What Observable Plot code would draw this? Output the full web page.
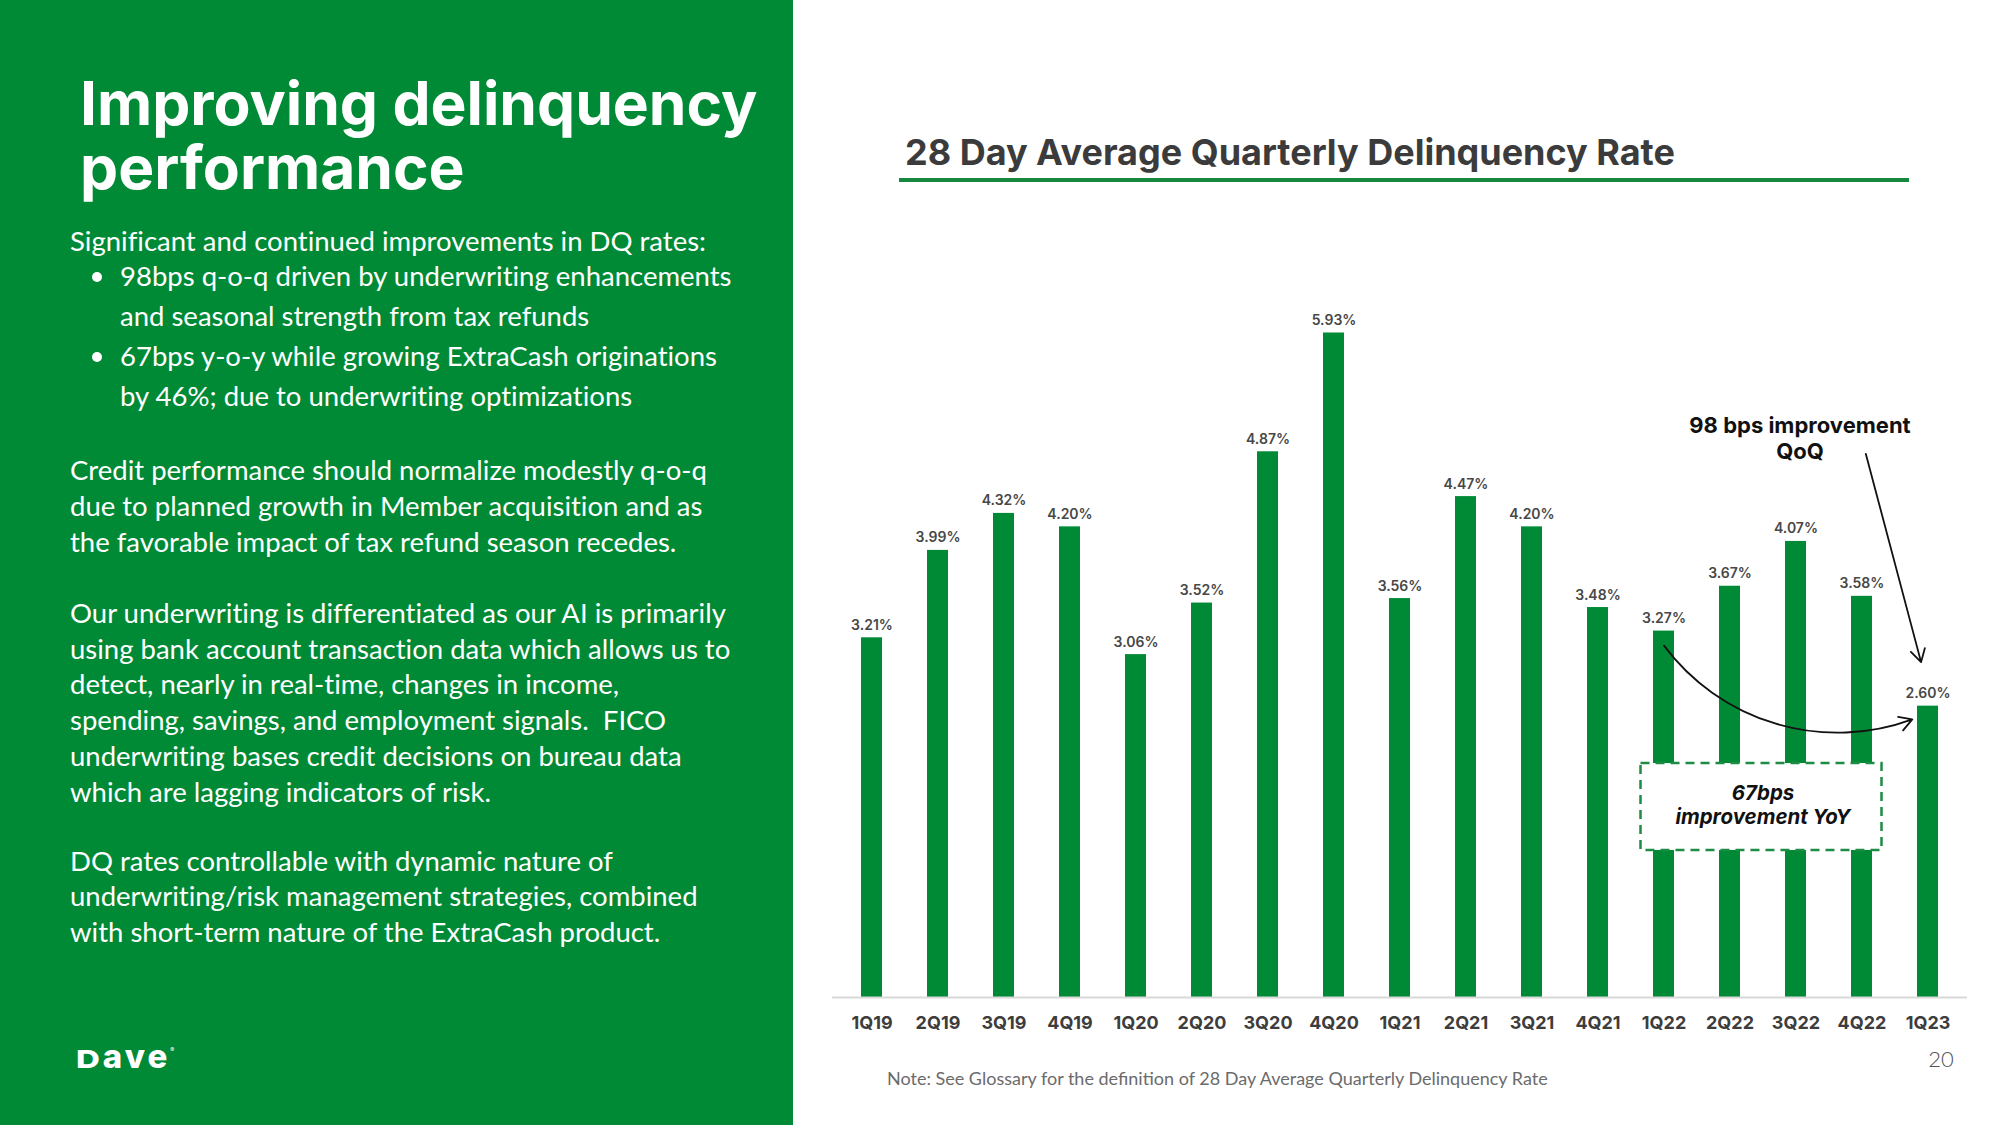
<!DOCTYPE html>
<html>
<head>
<meta charset="utf-8">
<script src="https://cdn.jsdelivr.net/npm/d3@7"></script>
<script src="https://cdn.jsdelivr.net/npm/@observablehq/plot@0.6"></script>
<style>
  html, body { margin: 0; padding: 0; }
  body { width: 2000px; height: 1125px; position: relative; background: #fff; overflow: hidden; font-family: Lato, sans-serif; }
  #panel { position: absolute; left: 0; top: 0; width: 793px; height: 1125px; background: #008a36; }
  .abs { position: absolute; white-space: nowrap; }
  .w { color: #fff; }
  .title { left: 80px; font-family: Inter, sans-serif; font-weight: 700; font-size: 60.5px; line-height: 64px; }
  .body { font-size: 27.5px; line-height: 35.7px; font-variant-ligatures: no-common-ligatures; }
  .bul { font-size: 27.5px; line-height: 40px; font-variant-ligatures: no-common-ligatures; }
  .dot { position: absolute; width: 10px; height: 10px; border-radius: 50%; background: #fff; }
  #logo { left: 76px; top: 1032.5px; font-family: Inter, sans-serif; font-weight: 800; font-size: 33px; line-height: 33px; letter-spacing: 3px; }
  #logo .D { display: inline-block; transform: scaleY(0.75); transform-origin: 50% 87%; }
  #logo sup { font-size: 6px; font-weight: 400; vertical-align: 16px; letter-spacing: 0; }
  #ctitle { left: 905px; top: 133.9px; font-family: Inter, sans-serif; font-weight: 700; font-size: 36px; line-height: 36px; color: #3b3b3b; }
  #uline { position: absolute; left: 899px; top: 178px; width: 1010px; height: 4px; background: #15873e; }
  #note { left: 887px; top: 1067.5px; font-size: 18px; line-height: 20px; color: #6b6b6b; }
  #page { left: 1920px; top: 1047.5px; width: 42px; text-align: center; font-size: 22px; line-height: 22px; font-weight: 300; color: #555; }
  #chart { position: absolute; left: 800px; top: 200px; }
</style>
</head>
<body>
<div id="panel"></div>
<div class="abs w title" style="top:71px;">Improving delinquency</div>
<div class="abs w title" style="top:135px;">performance</div>
<div class="abs w body" style="left:70px;top:222.5px;">Significant and continued improvements in DQ rates:</div>
<div class="dot" style="left:92px;top:272px;"></div>
<div class="dot" style="left:92px;top:352px;"></div>
<div class="abs w bul" style="left:120px;top:256.3px;">98bps q-o-q driven by underwriting enhancements<br>and seasonal strength from tax refunds<br>67bps y-o-y while growing ExtraCash originations<br>by 46%; due to underwriting optimizations</div>
<div class="abs w body" style="left:70px;top:452.2px;">Credit performance should normalize modestly q-o-q<br>due to planned growth in Member acquisition and as<br>the favorable impact of tax refund season recedes.</div>
<div class="abs w body" style="left:70px;top:595px;">Our underwriting is differentiated as our AI is primarily<br>using bank account transaction data which allows us to<br>detect, nearly in real-time, changes in income,<br>spending, savings, and employment signals.&nbsp; FICO<br>underwriting bases credit decisions on bureau data<br>which are lagging indicators of risk.</div>
<div class="abs w body" style="left:70px;top:842.5px;">DQ rates controllable with dynamic nature of<br>underwriting/risk management strategies, combined<br>with short-term nature of the ExtraCash product.</div>
<div class="abs w" id="logo"><span class="D">D</span>ave<sup>®</sup></div>

<div class="abs" id="ctitle">28 Day Average Quarterly Delinquency Rate</div>
<div id="uline"></div>
<div id="chart"></div>
<div class="abs" id="note">Note: See Glossary for the definition of 28 Day Average Quarterly Delinquency Rate</div>
<div class="abs" id="page">20</div>

<script>
// ---- data ----
const quarters = ["1Q19","2Q19","3Q19","4Q19","1Q20","2Q20","3Q20","4Q20","1Q21","2Q21","3Q21","4Q21","1Q22","2Q22","3Q22","4Q22","1Q23"];
const rates = [3.21, 3.99, 4.32, 4.20, 3.06, 3.52, 4.87, 5.93, 3.56, 4.47, 4.20, 3.48, 3.27, 3.67, 4.07, 3.58, 2.60];
const qoqNote = ["98 bps improvement", "QoQ"];
const yoyNote = ["67bps", "improvement YoY"];

const green = "#008a36";
const data = quarters.map((q, i) => ({q, v: rates[i]}));

const chart = Plot.plot({
  width: 1200,
  height: 860,
  marginTop: 35,
  marginBottom: 63,
  marginLeft: 32,
  marginRight: 33,
  style: {fontFamily: "Inter, sans-serif", background: "transparent", overflow: "visible"},
  x: {domain: quarters, paddingInner: 0.685, paddingOuter: 0.353, align: 0.5},
  y: {domain: [0, 6.8], axis: null},
  marks: [
    Plot.barY(data, {x: "q", y: "v", fill: green}),
    Plot.ruleY([0], {stroke: "#d9d9d9", strokeWidth: 2}),
    Plot.text(data, {x: "q", y: "v", text: d => d.v.toFixed(2) + "%", lineAnchor: "bottom", dy: -8, fontSize: 14, fontWeight: 600, fill: "#474747"}),
    Plot.axisX({tickSize: 0, tickPadding: 19, fontSize: 18, fontWeight: 700, color: "#3d3d3d", label: null}),
    // YoY dashed box
    Plot.rect([0], {x1: () => "1Q22", x2: () => "4Q22", y1: () => 1.312, y2: () => 2.088,
      insetLeft: -12.5, insetRight: -9.5, fill: "#fff", stroke: "#1f8c45", strokeWidth: 2.5, strokeDasharray: "9,6"}),
    Plot.text([yoyNote.join("\n")], {x: () => "2Q22", y: () => 1.722, text: d => d, dx: 33, lineAnchor: "middle",
      fontSize: 20.5, fontWeight: 700, fontStyle: "italic", lineHeight: 1.17, fill: "#111"}),
    // YoY curved arrow
    Plot.arrow([0], {x1: () => "1Q22", y1: () => 3.14, x2: () => "1Q23", y2: () => 2.54, bend: -39,
      insetEnd: 17, stroke: "#111", strokeWidth: 1.8, headLength: 12}),
    // QoQ note and arrow
    Plot.text([qoqNote.join("\n")], {x: () => "3Q22", y: () => 4.993, text: d => d, dx: 4, lineAnchor: "middle",
      fontSize: 22, fontWeight: 700, lineHeight: 1.14, fill: "#111"}),
    Plot.arrow([0], {x1: () => "4Q22", y1: () => 4.98, x2: () => "1Q23", y2: () => 2.76,
      insetStart: 15, insetEnd: 27, stroke: "#111", strokeWidth: 1.8, headLength: 12})
  ]
});
document.getElementById("chart").appendChild(chart);
</script>
</body>
</html>
